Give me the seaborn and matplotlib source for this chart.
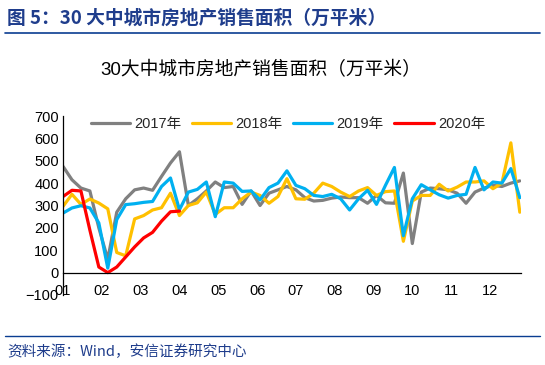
import matplotlib.pyplot as plt
import numpy as np
import pandas as pd
import seaborn as sns

# weekly sales area, 30 big & mid cities (10k sqm)
y2017 = [475, 415, 378, 365, 200, 60, 270, 330, 370, 378, 368, 430, 490, 540,
         300, 330, 365, 405, 380, 385, 305, 365, 300, 355, 370, 385, 370, 335,
         320, 323, 333, 338, 335, 335, 310, 345, 312, 310, 445, 130, 360, 378,
         375, 370, 355, 310, 360, 378, 390, 385, 400, 410]
y2018 = [296, 350, 305, 329, 311, 285, 90, 75, 240, 255, 280, 290, 355, 255,
         300, 312, 360, 260, 290, 290, 330, 360, 345, 310, 340, 420, 330, 328,
         355, 400, 385, 360, 340, 365, 380, 345, 362, 365, 140, 320, 345, 345,
         395, 365, 382, 405, 405, 410, 375, 400, 580, 270]
y2019 = [266, 289, 299, 289, 222, 20, 237, 304, 308, 314, 318, 385, 423, 281,
         360, 372, 405, 250, 405, 400, 363, 365, 325, 380, 400, 455, 390, 375,
         345, 340, 350, 330, 280, 330, 368, 305, 390, 470, 165, 330, 393, 370,
         348, 333, 345, 350, 470, 370, 405, 400, 465, 335]
y2020 = [340, 368, 365, 190, 25, 0, 25, 70, 115, 155, 180, 230, 272, 275]

series = {'2017年': y2017, '2018年': y2018, '2019年': y2019, '2020年': y2020}
colors = {'2017年': '#808080', '2018年': '#FFC000', '2019年': '#00B0F0', '2020年': '#FF0000'}
month_labels = ['01', '02', '03', '04', '05', '06', '07', '08', '09', '10', '11', '12']

rows = []
for name, vals in series.items():
    for w, v in enumerate(vals):
        rows.append({'year': name, 'x': w * 12 / 52, 'value': v})
df = pd.DataFrame(rows)

sns.set_style('white')
plt.rcParams['font.family'] = ['Liberation Sans', 'Noto Sans CJK SC']

fig = plt.figure(figsize=(5.45, 3.65), dpi=100)
ax = fig.add_axes([63 / 545, 70 / 365, 458 / 545, 179 / 365])

for name in series:
    sub = df[df['year'] == name]
    sns.lineplot(data=sub, x='x', y='value', ax=ax, color=colors[name], lw=2.3,
                 label=name, solid_joinstyle='round', solid_capstyle='round')

ax.set_xlim(0, 11.8)
ax.set_ylim(-100, 700)
ax.set_yticks(range(-100, 701, 100))
ax.set_xticks(range(12))
ax.set_xticklabels(month_labels)
ax.set_xlabel('')
ax.set_ylabel('')
ax.spines['top'].set_visible(False)
ax.spines['right'].set_visible(False)
ax.spines['bottom'].set_position(('data', 0))
for s in ['left', 'bottom']:
    ax.spines[s].set_color('black')
    ax.spines[s].set_linewidth(0.9)
ax.tick_params(axis='both', direction='in', length=4, width=0.9, labelsize=10.5, colors='black')
ax.tick_params(axis='x', pad=8)
ax.tick_params(axis='y', pad=3)

ax.legend(loc='center', bbox_to_anchor=(0.491, 0.955), ncol=4, frameon=False,
          fontsize=10.5, handlelength=2.7, handletextpad=0.3, columnspacing=0.7,
          borderaxespad=0)

fig.text(0.479, 1 - 70 / 365, '30大中城市房地产销售面积（万平米）', ha='center', va='center',
         fontsize=13.5, color='black')

navy = '#1F3D8C'
fig.text(7 / 545, 1 - 18 / 365, '图 5：30 大中城市房地产销售面积（万平米）', ha='left', va='center',
         fontsize=13.5, fontweight='bold', color=navy,
         family=['Noto Sans CJK SC', 'Liberation Sans'])
fig.add_artist(plt.Line2D([5 / 545, 540 / 545], [1 - 33 / 365] * 2, color='#0A3D91', lw=1.2))
fig.add_artist(plt.Line2D([5 / 545, 540 / 545], [1 - 336 / 365] * 2, color='#0A3D91', lw=1.0))
fig.text(7 / 545, 1 - 352 / 365, '资料来源：Wind，安信证券研究中心', ha='left', va='center',
         fontsize=10.5, color=navy, style='italic',
         family=['Noto Sans CJK SC', 'Liberation Sans'])

fig.savefig('out.png', dpi=100)
